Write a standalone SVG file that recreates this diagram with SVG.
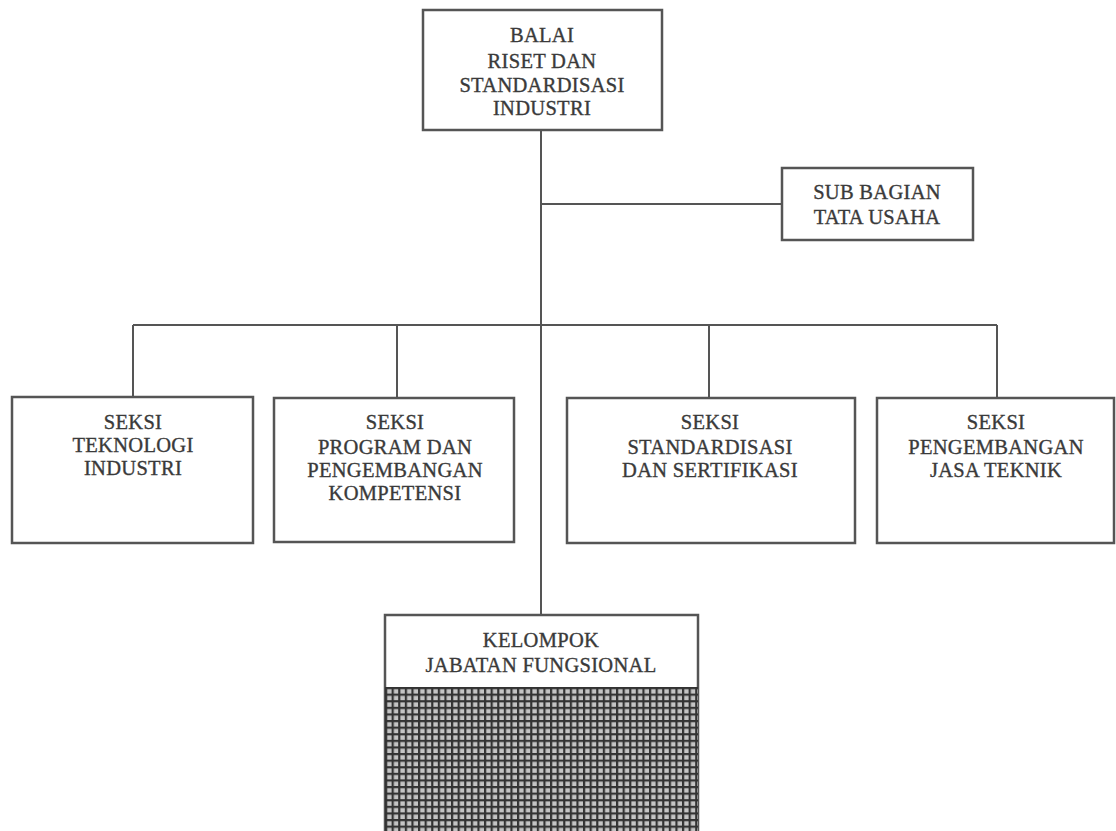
<svg xmlns="http://www.w3.org/2000/svg" width="1116" height="831" viewBox="0 0 1116 831">
<style>
.box{fill:#fff;stroke:#555;stroke-width:2.5}
.ln{fill:none;stroke:#555;stroke-width:2}
text{font-family:"Liberation Serif","Times New Roman",serif;font-size:20.5px;letter-spacing:0.3px;fill:#3a3a3a;stroke:#3a3a3a;stroke-width:0.35;text-anchor:middle}
</style>
<defs>
<pattern id="grid" width="6.6" height="6.6" patternUnits="userSpaceOnUse" x="385" y="687">
<rect width="6.6" height="6.6" fill="#c4c4c4"/>
<rect x="0" y="0" width="6.6" height="2.2" fill="#333"/>
<rect x="0" y="0" width="2.2" height="6.6" fill="#333"/>
</pattern>
</defs>
<rect width="1116" height="831" fill="#fff"/>
<g id="connectors">
<line class="ln" x1="541" y1="130" x2="541" y2="615"/>
<line class="ln" x1="541" y1="204" x2="782" y2="204"/>
<line class="ln" x1="133" y1="325" x2="997" y2="325"/>
<line class="ln" x1="133" y1="325" x2="133" y2="398"/>
<line class="ln" x1="397" y1="325" x2="397" y2="398"/>
<line class="ln" x1="709" y1="325" x2="709" y2="398"/>
<line class="ln" x1="997" y1="325" x2="997" y2="398"/>
</g>
<g id="balai">
<rect class="box" x="423" y="10" width="239" height="120"/>
<text x="542" y="42">BALAI</text>
<text x="542" y="68">RISET DAN</text>
<text x="542" y="92">STANDARDISASI</text>
<text x="542" y="115">INDUSTRI</text>
</g>
<g id="subbagian">
<rect class="box" x="782" y="168" width="191" height="72"/>
<text x="877" y="199">SUB BAGIAN</text>
<text x="877" y="224">TATA USAHA</text>
</g>
<g id="seksi1">
<rect class="box" x="12" y="397" width="241" height="146"/>
<text x="133" y="429">SEKSI</text>
<text x="133" y="452">TEKNOLOGI</text>
<text x="133" y="475">INDUSTRI</text>
</g>
<g id="seksi2">
<rect class="box" x="274" y="398" width="240" height="144"/>
<text x="395" y="429">SEKSI</text>
<text x="395" y="454">PROGRAM DAN</text>
<text x="395" y="477">PENGEMBANGAN</text>
<text x="395" y="500">KOMPETENSI</text>
</g>
<g id="seksi3">
<rect class="box" x="567" y="398" width="288" height="145"/>
<text x="710" y="429">SEKSI</text>
<text x="710" y="454">STANDARDISASI</text>
<text x="710" y="477">DAN SERTIFIKASI</text>
</g>
<g id="seksi4">
<rect class="box" x="877" y="398" width="237" height="145"/>
<text x="996" y="429">SEKSI</text>
<text x="996" y="454">PENGEMBANGAN</text>
<text x="996" y="477">JASA TEKNIK</text>
</g>
<g id="kelompok">
<rect class="box" x="385" y="615" width="313" height="230"/>
<rect x="385" y="687" width="313" height="150" fill="url(#grid)"/>
<text x="541" y="647">KELOMPOK</text>
<text x="541" y="672">JABATAN FUNGSIONAL</text>
</g>
</svg>
